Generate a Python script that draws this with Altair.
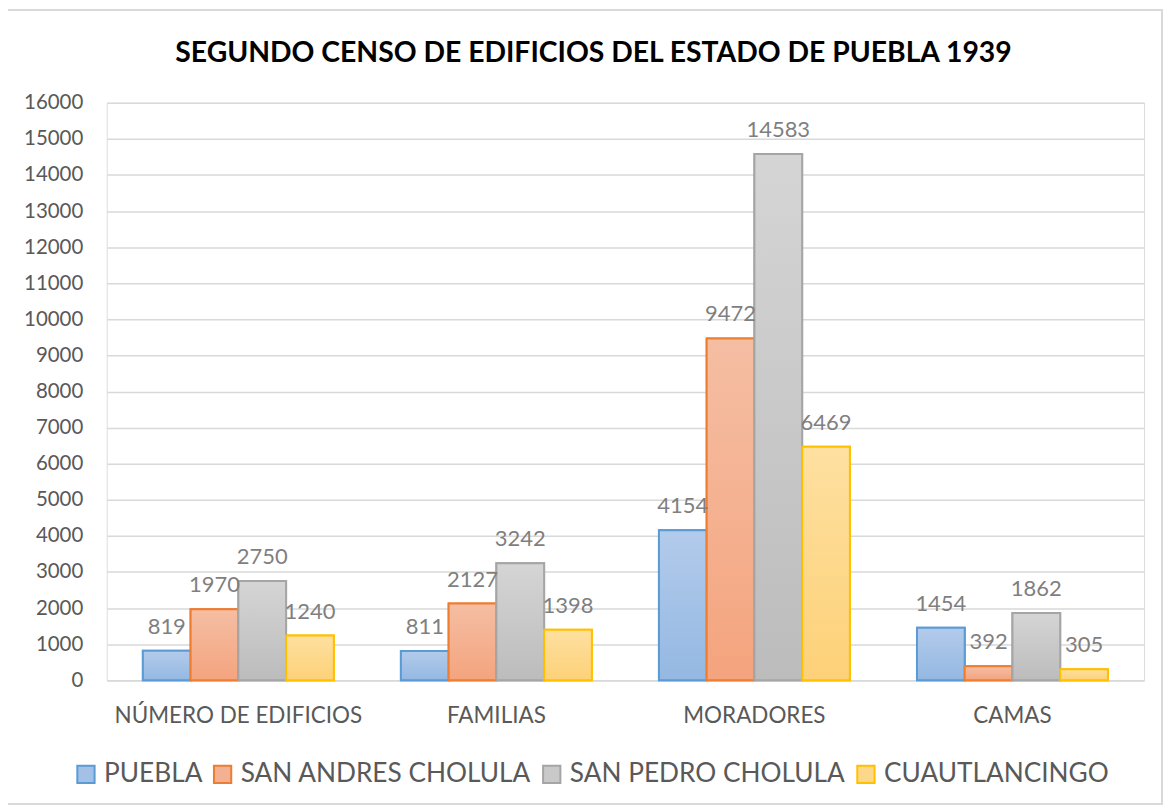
import altair as alt
import pandas as pd

categories = ["NÚMERO DE EDIFICIOS", "FAMILIAS", "MORADORES", "CAMAS"]
series = ["PUEBLA", "SAN ANDRES CHOLULA", "SAN PEDRO CHOLULA", "CUAUTLANCINGO"]
puebla = [819, 811, 4154, 1454]
san_andres = [1970, 2127, 9472, 392]
san_pedro = [2750, 3242, 14583, 1862]
cuautlancingo = [1240, 1398, 6469, 305]
y_ticks = list(range(0, 16001, 1000))
title_text = "SEGUNDO CENSO DE EDIFICIOS DEL ESTADO DE PUEBLA 1939"

strokes = ["#5B9BD5", "#ED7D31", "#A5A5A5", "#FFC000"]
fills_mid = ["#a3c0e6", "#f4b092", "#c9c9c9", "#fdd88a"]
grad_top = ["#b3cbeb", "#f5bea3", "#d5d5d5", "#fee0a0"]
grad_bot = ["#94b8e2", "#f4a47e", "#bcbcbc", "#fdd178"]

rows = []
for s, vals in zip(series, [puebla, san_andres, san_pedro, cuautlancingo]):
    for c, v in zip(categories, vals):
        rows.append({"categoria": c, "serie": s, "valor": v})
df = pd.DataFrame(rows)

FONT = "Lato"
W, H = 1040, 579

x_enc = alt.X("categoria:N", sort=categories,
              scale=alt.Scale(paddingInner=0.26, paddingOuter=0.14),
              axis=alt.Axis(title=None, labelAngle=0, labelFontSize=22.5, labelColor="#595959",
                            labelFont=FONT, labelPadding=24, labelLimit=0, ticks=False,
                            domainColor="#d9d9d9", domainWidth=1.5, grid=False))
xo_enc = alt.XOffset("serie:N", sort=series, scale=alt.Scale(domain=series, paddingInner=0))
y_enc = alt.Y("valor:Q", scale=alt.Scale(domain=[0, 16000], nice=False),
              axis=alt.Axis(title=None, values=y_ticks, format="d", labelFontSize=20.5,
                            labelColor="#595959", labelFont=FONT, labelPadding=24, ticks=False,
                            domain=False, gridColor="#d9d9d9", gridWidth=1.5))

base = alt.Chart(df).mark_bar(strokeWidth=2).encode(
    x=x_enc, xOffset=xo_enc, y=y_enc,
    fill=alt.Fill("serie:N", sort=series, scale=alt.Scale(domain=series, range=fills_mid),
                  legend=alt.Legend(title=None, orient="none", legendX=-34, legendY=660,
                                    direction="horizontal", symbolType="square", symbolSize=300,
                                    symbolStrokeWidth=2, labelFontSize=26.3, labelColor="#595959",
                                    labelFont=FONT, labelLimit=0, columnPadding=7, labelOffset=5)),
    stroke=alt.Stroke("serie:N", sort=series, scale=alt.Scale(domain=series, range=strokes)),
)

layers = [base]
for s, st, gt, gb in zip(series, strokes, grad_top, grad_bot):
    grad = alt.LinearGradient(gradient="linear", x1=0, y1=0, x2=0, y2=1,
                              stops=[alt.GradientStop(color=gt, offset=0),
                                     alt.GradientStop(color=gb, offset=1)])
    layers.append(
        alt.Chart(df).transform_filter(alt.datum.serie == s)
        .mark_bar(fill=grad, stroke=st, strokeWidth=2)
        .encode(x=x_enc, xOffset=xo_enc, y=y_enc)
    )

labels = alt.Chart(df).mark_text(dy=-24, fontSize=22, color="#7f7f7f", font=FONT).encode(
    x=x_enc, xOffset=xo_enc, y=y_enc, text=alt.Text("valor:Q", format="d"))
layers.append(labels)

title = alt.Chart(pd.DataFrame({"t": [title_text]})).mark_text(
    fontSize=28.4, font=FONT, fontWeight="bold", color="#000000", align="center", baseline="middle"
).encode(x=alt.value(488), y=alt.value(-50), text="t:N")
layers.append(title)

border = alt.Chart(df).mark_rect(fill=None, stroke="#d9d9d9", strokeWidth=1.5).encode(
    x=alt.value(-100), x2=alt.value(1058), y=alt.value(-93), y2=alt.value(703))
layers.append(border)

chart = alt.layer(*layers).properties(
    width=W, height=H,
    autosize=alt.AutoSizeParams(type="none"),
    padding={"left": 99, "top": 94, "right": 20, "bottom": 130},
).configure_view(stroke=None).configure(background="white")

chart.save("out.html", embed_options={"renderer": "svg", "actions": False})
